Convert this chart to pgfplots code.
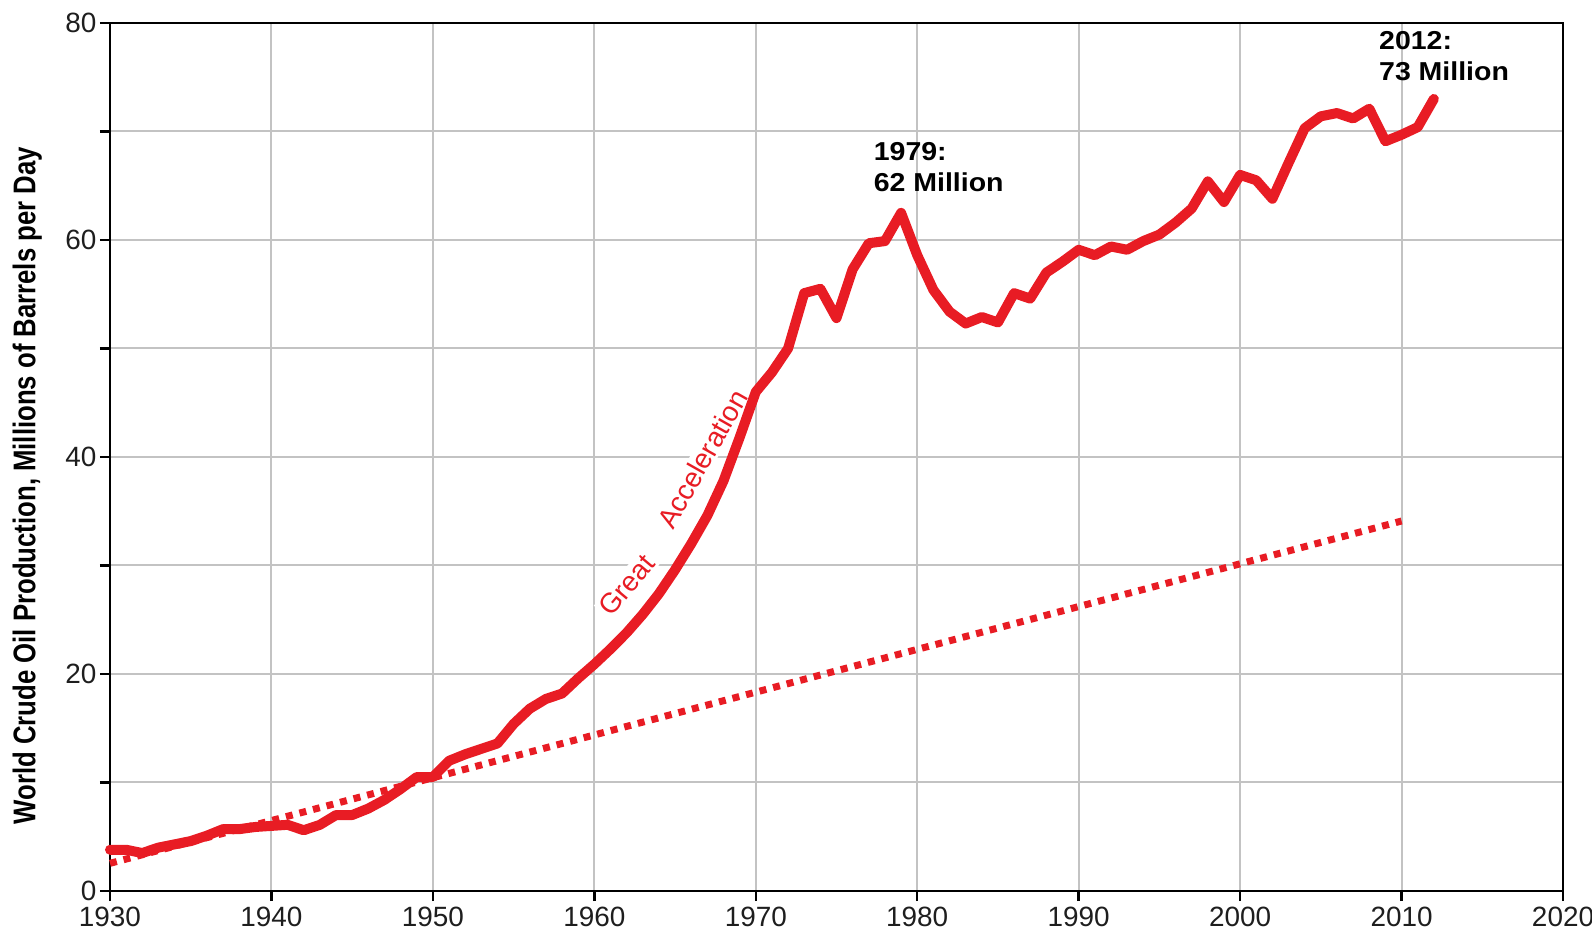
\documentclass[border=0pt]{standalone}
\usepackage{fontspec}
\setmainfont{Liberation Sans}
\newfontfamily\ylabfont[FakeStretch=0.82]{Liberation Sans}
\newfontfamily\annfont[FakeStretch=1.1]{Liberation Sans}
\usepackage{pgfplots}
\usepackage{pgfplotstable}
\pgfplotsset{compat=1.18}
\definecolor{oilred}{RGB}{232,28,36}
\definecolor{gridgray}{RGB}{195,195,195}
\definecolor{ticktext}{RGB}{30,30,30}

\pgfplotstableread{
year prod
1930 3.8
1931 3.8
1932 3.5
1933 4.0
1934 4.3
1935 4.6
1936 5.1
1937 5.7
1938 5.7
1939 5.9
1940 6.0
1941 6.1
1942 5.6
1943 6.1
1944 7.0
1945 7.0
1946 7.6
1947 8.4
1948 9.4
1949 10.5
1950 10.5
1951 12.0
1952 12.6
1953 13.1
1954 13.6
1955 15.4
1956 16.8
1957 17.7
1958 18.2
1959 19.6
1960 20.9
1961 22.3
1962 23.8
1963 25.5
1964 27.4
1965 29.6
1966 32.0
1967 34.6
1968 37.8
1969 41.8
1970 46.0
1971 47.8
1972 50.0
1973 55.1
1974 55.5
1975 52.8
1976 57.3
1977 59.7
1978 59.9
1979 62.5
1980 58.6
1981 55.4
1982 53.4
1983 52.3
1984 52.9
1985 52.4
1986 55.1
1987 54.6
1988 57.0
1989 58.0
1990 59.1
1991 58.6
1992 59.4
1993 59.1
1994 59.9
1995 60.5
1996 61.6
1997 62.9
1998 65.4
1999 63.5
2000 66.0
2001 65.5
2002 63.8
2003 67.1
2004 70.3
2005 71.4
2006 71.7
2007 71.2
2008 72.1
2009 69.1
2010 69.7
2011 70.4
2012 73.0
}\oil

\pgfplotstableread{
year prod
1930 2.55
2010 34.1
}\trend

\begin{document}
\begin{tikzpicture}
\begin{axis}[
  scale only axis,
  width=1453bp, height=868bp,
  xmin=1930, xmax=2020, ymin=0, ymax=80,
  xtick={1930,1940,...,2020},
  ytick={0,10,...,80},
  yticklabels={0,,20,,40,,60,,80},
  /pgf/number format/1000 sep={},
  /pgf/number format/assume math mode=true,
  xtick pos=bottom, ytick pos=left,
  tick align=outside,
  major tick length=10bp,
  tick style={black, line width=2.5bp},
  axis line style={black, line width=2.5bp},
  grid=major,
  major grid style={gridgray, line width=2bp},
  ticklabel style={font=\fontsize{28}{32}\selectfont, text=ticktext},
  xticklabel style={yshift=-2bp},
  ylabel={World Crude Oil Production, Millions of Barrels per Day},
  ylabel style={font=\fontsize{31.5}{34}\selectfont\ylabfont\bfseries,
    at={(axis description cs:-0.057,0.467)}, anchor=center},
  clip=false,
]
\node[rotate=50, text=oilred, fill=white, inner sep=2bp,
  font=\fontsize{28}{32}\selectfont] at (axis cs:1962.0,28.2) {Great};
\node[rotate=60.5, text=oilred, fill=white, inner sep=2bp,
  font=\fontsize{28}{32}\selectfont] at (axis cs:1966.7,39.8) {Acceleration};

\addplot[oilred, line width=7bp, dash pattern=on 7bp off 7bp] table[x=year, y=prod] {\trend};
\addplot[oilred, line width=10bp, line join=round, line cap=round] table[x=year, y=prod] {\oil};

\node[anchor=north west, align=left, inner sep=0pt,
  font=\fontsize{26}{30.5}\selectfont\annfont\bfseries] at (axis cs:1977.3,69.0) {1979:\\62 Million};
\node[anchor=north west, align=left, inner sep=0pt,
  font=\fontsize{26}{30.5}\selectfont\annfont\bfseries] at (axis cs:2008.6,79.2) {2012:\\73 Million};
\end{axis}
\pgfresetboundingbox
\path[use as bounding box] ([xshift=-110bp,yshift=-47bp]current axis.south west) rectangle ([xshift=29bp,yshift=23bp]current axis.north east);
\end{tikzpicture}
\end{document}
